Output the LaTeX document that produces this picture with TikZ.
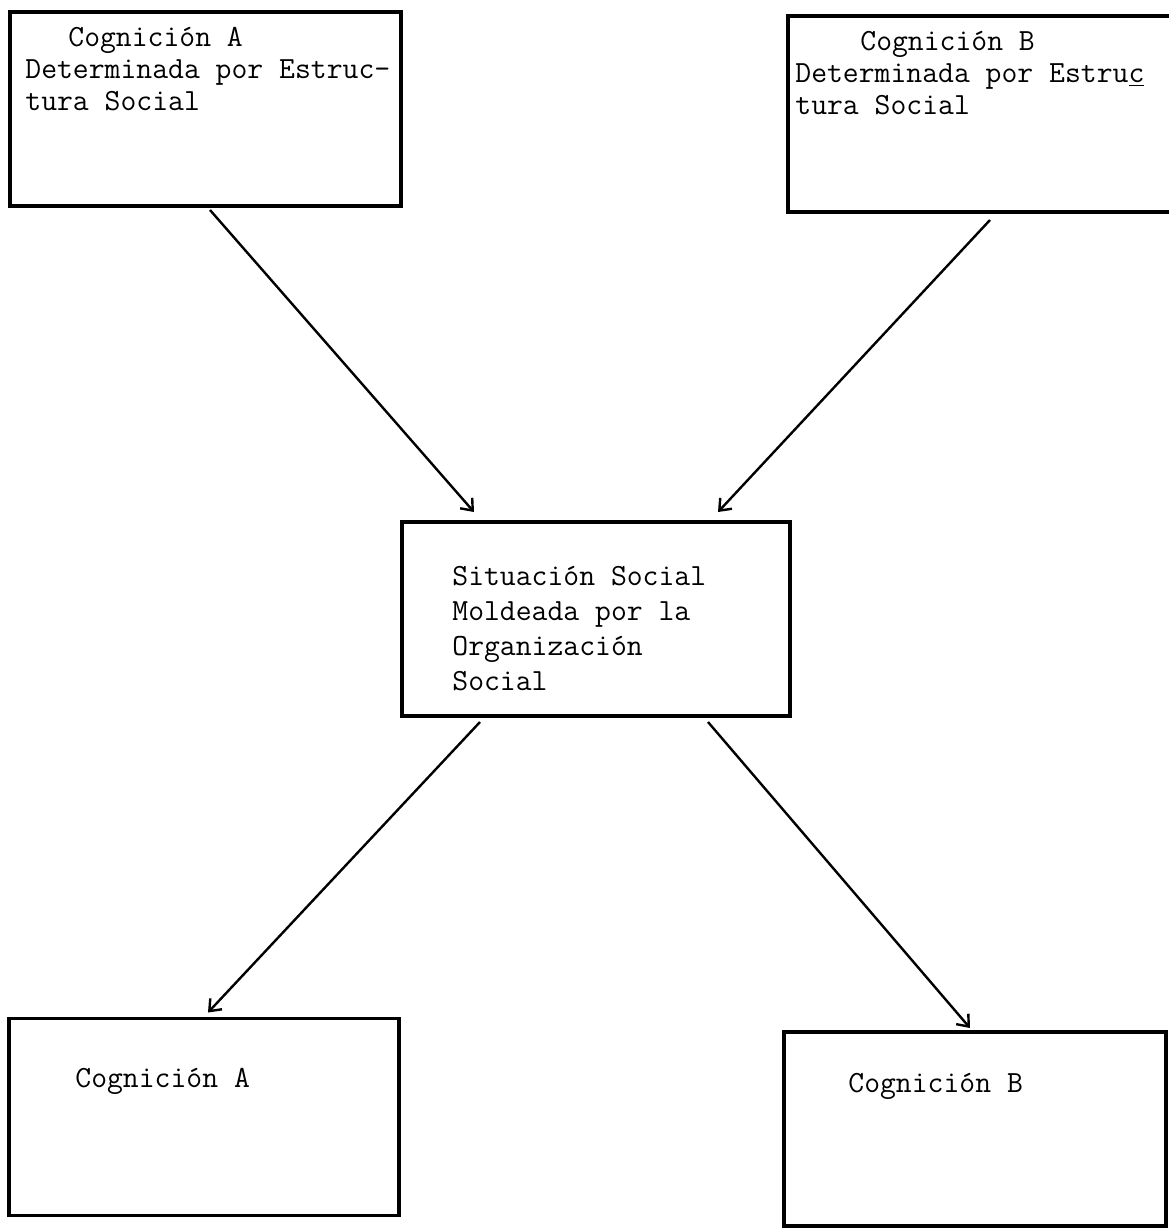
\documentclass[tikz,border=0pt]{standalone}
\usepackage{fontspec}
\usetikzlibrary{arrows.meta}

\begin{document}
\begin{tikzpicture}[x=0.5pt, y=-0.5pt,
		caja/.style={draw, line width=1.8pt, inner sep=0pt, outer sep=0pt},
		texto/.style={anchor=base west, inner sep=0pt, align=left, font=\ttfamily\fontsize{15.4}{16}\selectfont},
		flecha/.style={line width=1.2pt, -{Straight Barb[length=5pt,width=8pt]}}]
			%%%%% START %%%%%
			
			\useasboundingbox (0, 0) rectangle (1169, 1228);
			
			% cajas de arriba (la base es la ultima linea)
			\node[caja, minimum width=195.5pt, minimum height=97pt] (cogA) at (205.5, 109) {};
			\node[texto] (cogAtxt) at (25, 110) {\hspace*{21.5pt}Cognición A\\Determinada por Estruc-\\tura Social};
			
			\node[caja, minimum width=198.5pt, minimum height=98pt] (cogB) at (986.5, 114) {};
			\node[texto] (cogBtxt) at (795, 114) {\hspace*{32.5pt}Cognición B\\Determinada por Estru\underline{c}\\tura Social};
			
			% caja del centro
			\node[caja, minimum width=194pt, minimum height=97pt] (sit) at (596, 619) {};
			\node[texto, font=\ttfamily\fontsize{15.4}{17.5}\selectfont] (sittxt) at (452, 690) {Situación Social\\Moldeada por la\\Organización\\Social};
			
			% cajas de abajo
			\node[caja, minimum width=195pt, minimum height=98.5pt] (finA) at (204, 1117) {};
			\node[texto] (finAtxt) at (75, 1087) {Cognición A};
			
			\node[caja, minimum width=191pt, minimum height=97pt] (finB) at (975, 1129) {};
			\node[texto] (finBtxt) at (848, 1092) {Cognición B};
			
			\draw[flecha] ([xshift=2.25pt, yshift=-2pt]cogA.south) -- ([xshift=-61pt, yshift=5pt]sit.north);
			\draw[flecha] ([xshift=1.75pt, yshift=-4pt]cogB.south) -- ([xshift=61pt, yshift=5pt]sit.north);
			\draw[flecha] ([xshift=-58pt, yshift=-3pt]sit.south) -- ([xshift=2pt, yshift=3pt]finA.north);
			\draw[flecha] ([xshift=56pt, yshift=-3pt]sit.south) -- ([xshift=-2.5pt, yshift=2pt]finB.north);
			
			%%%%% END %%%%%
		\end{tikzpicture}
\end{document}
